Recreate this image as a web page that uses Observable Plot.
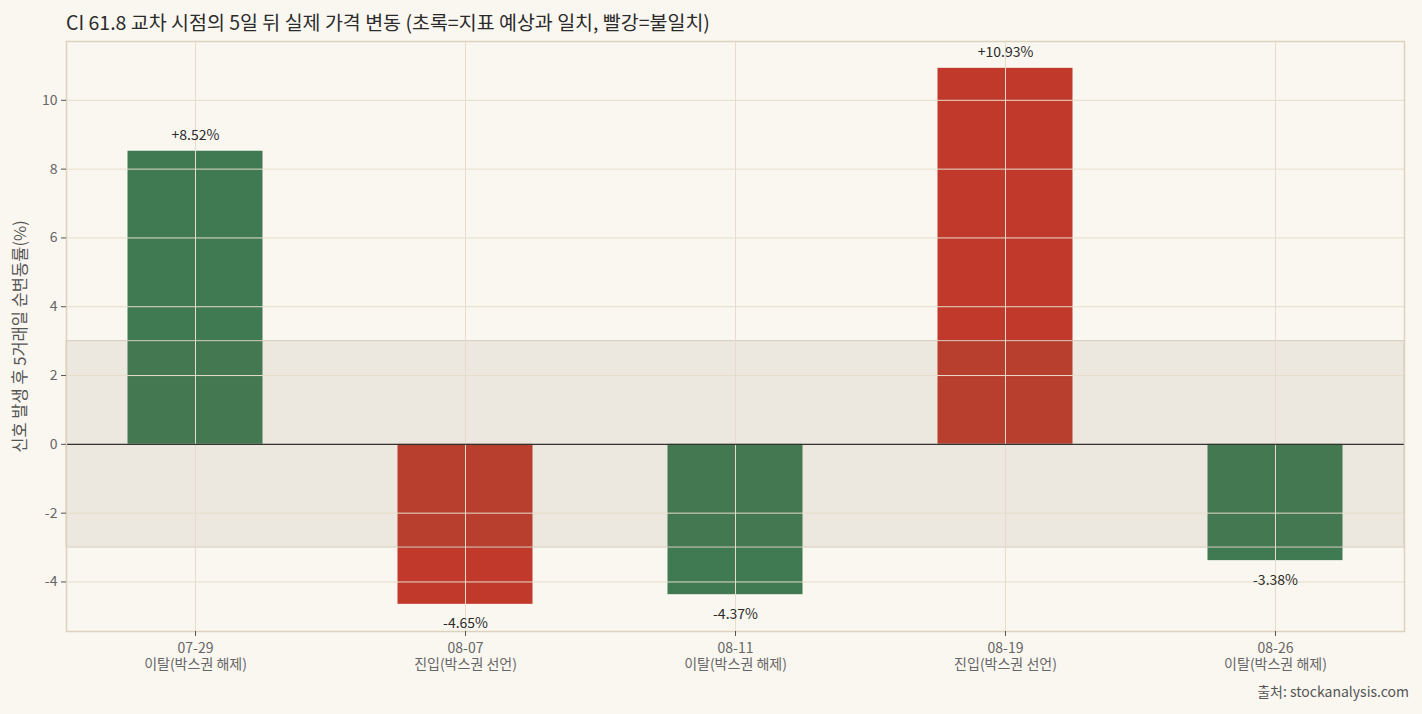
<!DOCTYPE html>
<html>
<head>
<meta charset="utf-8">
<script src="https://cdn.jsdelivr.net/npm/d3@7"></script>
<script src="https://cdn.jsdelivr.net/npm/@observablehq/plot@0.6"></script>
<style>
  html, body { margin: 0; padding: 0; background: #faf7f0; }
  body { width: 1422px; height: 714px; overflow: hidden; font-family: "Noto Sans CJK KR", "Noto Sans", sans-serif; }
  #title { height: 30px; padding-left: 66px; font-size: 19.5px; line-height: 44px; color: #2b2b2b; white-space: nowrap; }
  #caption { height: 39px; text-align: right; padding-right: 13px; font-size: 14px; line-height: 32px; color: #555; }
  svg { display: block; }
</style>
</head>
<body>
<div id="title">CI 61.8 교차 시점의 5일 뒤 실제 가격 변동 (초록=지표 예상과 일치, 빨강=불일치)</div>
<div id="chart"></div>
<div id="caption">출처: stockanalysis.com</div>
<script>
const dates = ["07-29", "08-07", "08-11", "08-19", "08-26"];
const signals = ["이탈(박스권 해제)", "진입(박스권 선언)", "이탈(박스권 해제)", "진입(박스권 선언)", "이탈(박스권 해제)"];
const changes = [8.52, -4.65, -4.37, 10.93, -3.38];
const matches = [true, false, true, false, true];
const yTicks = [-4, -2, 0, 2, 4, 6, 8, 10];
const bandLimits = [-3, 3];
const yDomain = [-5.44, 11.71];
const yLabel = "신호 발생 후 5거래일 순변동률(%)";

const rows = dates.map((d, i) => ({
  date: d, signal: signals[i], value: changes[i],
  match: matches[i] ? "일치" : "불일치",
  label: (changes[i] > 0 ? "+" : "") + changes[i].toFixed(2) + "%"
}));

const gridColor = "#e6dccb";
const chart = Plot.plot({
  width: 1422,
  height: 645,
  marginTop: 11,
  marginLeft: 66,
  marginRight: 18,
  marginBottom: 44,
  style: { background: "#faf7f0", fontFamily: "'Noto Sans CJK KR', 'Noto Sans', sans-serif", fontSize: "14px", color: "#666" },
  x: { domain: dates, paddingInner: 0.5, paddingOuter: 0.2278, round: false, label: null },
  y: { domain: yDomain, label: null },
  color: { domain: ["일치", "불일치"], range: ["#3f7a52", "#c0392b"] },
  marks: [
    Plot.barY(rows, { x: "date", y: "value", fill: "match" }),
    Plot.rectY([bandLimits], { y1: d => d[0], y2: d => d[1], fill: "#7a6a50", fillOpacity: 0.1, stroke: "#d6cdbf", strokeWidth: 1 }),
    Plot.gridY(yTicks, { stroke: gridColor, strokeOpacity: 1, strokeWidth: 1 }),
    Plot.gridX(dates, { stroke: gridColor, strokeOpacity: 1, strokeWidth: 1 }),
    Plot.ruleY([0], { stroke: "#333", strokeWidth: 1.3 }),
    Plot.text(rows, { x: "date", y: "value", text: "label", fill: "#2b2b2b", fontSize: 14,
      filter: d => d.value > 0, lineAnchor: "bottom", dy: -11 }),
    Plot.text(rows, { x: "date", y: "value", text: "label", fill: "#2b2b2b", fontSize: 14,
      filter: d => d.value < 0, lineAnchor: "top", dy: 14 }),
    Plot.frame({ stroke: "#ddd2bd", strokeWidth: 1.5 }),
    Plot.axisY(yTicks, { tickSize: 5, tickPadding: 4, stroke: "#555", fill: "#666", fontSize: 14,
      tickFormat: d => String(d), label: null }),
    Plot.text([yLabel], { frameAnchor: "left", textAnchor: "middle", rotate: -90, dx: -46, fill: "#555", fontSize: 16.5 }),
    Plot.axisX(dates, { tickSize: 5, tickPadding: 6, stroke: "#555", fill: "#666", fontSize: 14, lineHeight: 1.1,
      tickFormat: d => d + "\n" + signals[dates.indexOf(d)], label: null })
  ]
});
document.getElementById("chart").appendChild(chart);
</script>
</body>
</html>
